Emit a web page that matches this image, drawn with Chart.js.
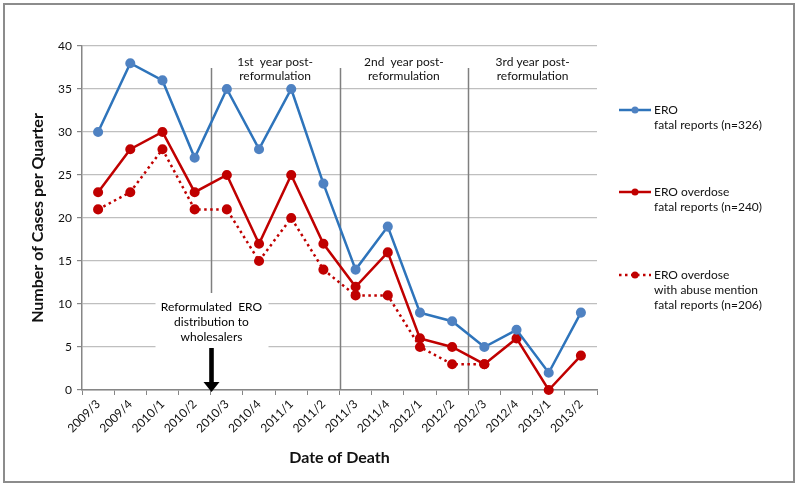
<!DOCTYPE html>
<html>
<head>
<meta charset="utf-8">
<script src="https://cdn.jsdelivr.net/npm/chart.js@4.4.1/dist/chart.umd.min.js"></script>
<style>
  html, body { margin: 0; padding: 0; background: #fff; }
  #wrap { width: 798px; height: 487px; position: relative; }
</style>
</head>
<body>
<div id="wrap"><canvas id="c" width="798" height="487"></canvas></div>
<script>
const categories = ["2009/3","2009/4","2010/1","2010/2","2010/3","2010/4","2011/1","2011/2","2011/3","2011/4","2012/1","2012/2","2012/3","2012/4","2013/1","2013/2"];
const eroFatal = [30,38,36,27,35,28,35,24,14,19,9,8,5,7,2,9];
const overdoseFatal = [23,28,30,23,25,17,25,17,12,16,6,5,3,6,0,4];
const abuseFatal = [21,23,28,21,21,15,20,14,11,11,5,3,3,null,null,null];
const seriesLabels = [
  ["ERO", "fatal reports (n=326)"],
  ["ERO overdose", "fatal reports (n=240)"],
  ["ERO overdose", "with abuse mention", "fatal reports (n=206)"]
];
const periodBoundaries = [4, 8, 12];
const periodLabels = [["1st  year post-","reformulation"],["2nd  year post-","reformulation"],["3rd year post-","reformulation"]];
const eventLabel = ["Reformulated  ERO","distribution to","wholesalers"];
const eventBoundary = 4;
const yMin = 0, yMax = 40, yStep = 5;

const FONT = "Lato, 'Open Sans', sans-serif";
const BLUE_LINE = "#2e74bb", BLUE_PT = "#4f82c2";
const RED = "#c00000";

const legendYs = [110, 192, 275];

const decor = {
  id: "decor",
  beforeDatasetsDraw(chart) {
    const ctx = chart.ctx, x = chart.scales.x, ca = chart.chartArea;
    const bx = i => (x.getPixelForValue(i - 1) + x.getPixelForValue(i)) / 2;
    ctx.save();
    ctx.strokeStyle = "#7f7f7f"; ctx.lineWidth = 1.5;
    periodBoundaries.forEach(b => {
      const px = Math.round(bx(b)) + 0.5;
      ctx.beginPath(); ctx.moveTo(px, 68); ctx.lineTo(px, ca.bottom); ctx.stroke();
    });
    ctx.fillStyle = "#111"; ctx.font = "12px " + FONT; ctx.textAlign = "center"; ctx.textBaseline = "middle";
    const bounds = periodBoundaries.concat([categories.length]);
    periodLabels.forEach((lines, i) => {
      const cx = (bx(bounds[i]) + (bounds[i+1] >= categories.length ? ca.right : bx(bounds[i+1]))) / 2;
      lines.forEach((t, j) => ctx.fillText(t, cx, 62 + j * 14));
    });
    const ex = Math.round(bx(eventBoundary)) + 0.5;
    ctx.fillStyle = "#fff";
    ctx.fillRect(ex - 56, 293, 113, 58);
    ctx.fillStyle = "#000";
    eventLabel.forEach((t, j) => ctx.fillText(t, ex, 307 + j * 15));
    ctx.fillRect(ex - 2.3, 348, 4.6, 36);
    ctx.beginPath(); ctx.moveTo(ex - 8, 382); ctx.lineTo(ex + 8, 382); ctx.lineTo(ex, 392); ctx.closePath(); ctx.fill();
    ctx.restore();
  },
  afterDraw(chart) {
    const ctx = chart.ctx;
    ctx.save();
    chart.data.datasets.forEach((ds, i) => {
      const y = legendYs[i];
      ctx.strokeStyle = ds.borderColor; ctx.lineWidth = 2.5;
      ctx.setLineDash(ds.borderDash || []);
      ctx.beginPath(); ctx.moveTo(619, y); ctx.lineTo(651, y); ctx.stroke();
      ctx.setLineDash([]);
      ctx.fillStyle = ds.pointBackgroundColor;
      ctx.beginPath(); ctx.arc(635, y, 3.5, 0, Math.PI * 2); ctx.fill();
      ctx.fillStyle = "#111"; ctx.font = "12px " + FONT; ctx.textAlign = "left"; ctx.textBaseline = "middle";
      seriesLabels[i].forEach((t, j) => ctx.fillText(t, 654, y + j * 15));
    });
    ctx.strokeStyle = "#8c8c8c"; ctx.lineWidth = 2;
    ctx.strokeRect(4, 4, 790, 478);
    ctx.restore();
  }
};

new Chart(document.getElementById("c"), {
  type: "line",
  data: {
    labels: categories,
    datasets: [
      { label: seriesLabels[0].join(" "), data: eroFatal, borderColor: BLUE_LINE, pointBackgroundColor: BLUE_PT, pointBorderColor: BLUE_PT, borderWidth: 2.5, pointRadius: 3.8, clip: false, tension: 0 },
      { label: seriesLabels[1].join(" "), data: overdoseFatal, borderColor: RED, pointBackgroundColor: RED, pointBorderColor: RED, borderWidth: 2.5, pointRadius: 3.8, clip: false, tension: 0 },
      { label: seriesLabels[2].join(" "), data: abuseFatal, borderColor: RED, pointBackgroundColor: RED, pointBorderColor: RED, borderWidth: 2.5, borderDash: [2.5, 3.5], pointRadius: 3.8, clip: false, spanGaps: false, tension: 0 }
    ]
  },
  options: {
    responsive: false,
    animation: false,
    devicePixelRatio: 1,
    layout: { padding: { left: 0, top: 46, right: 201, bottom: 0 } },
    plugins: { legend: { display: false }, tooltip: { enabled: false } },
    scales: {
      x: {
        offset: true,
        afterFit(s) { s.height = 97; },
        grid: { offset: true, drawOnChartArea: false, drawTicks: true, tickLength: 5, color: "#868686" },
        border: { color: "#868686", width: 1.5 },
        ticks: { minRotation: 45, maxRotation: 45, autoSkip: false, padding: 2, color: "#111", font: { family: FONT, size: 12 } },
        title: { display: true, text: "Date of Death", color: "#111", font: { family: FONT, size: 16, weight: "bold" }, padding: { top: 0, bottom: 20 } }
      },
      y: {
        min: yMin, max: yMax,
        afterFit(s) { s.width = 82; },
        grid: { color: "#bfbfbf", lineWidth: 1.2, tickLength: 5, tickColor: "#868686" },
        border: { color: "#868686", width: 1.5 },
        ticks: { stepSize: yStep, padding: 5, color: "#111", font: { family: FONT, size: 12 } },
        title: { display: true, text: "Number of Cases per Quarter", color: "#111", font: { family: FONT, size: 16, weight: "bold" }, padding: { top: 28, bottom: 0 } }
      }
    }
  },
  plugins: [decor]
});
</script>
</body>
</html>
